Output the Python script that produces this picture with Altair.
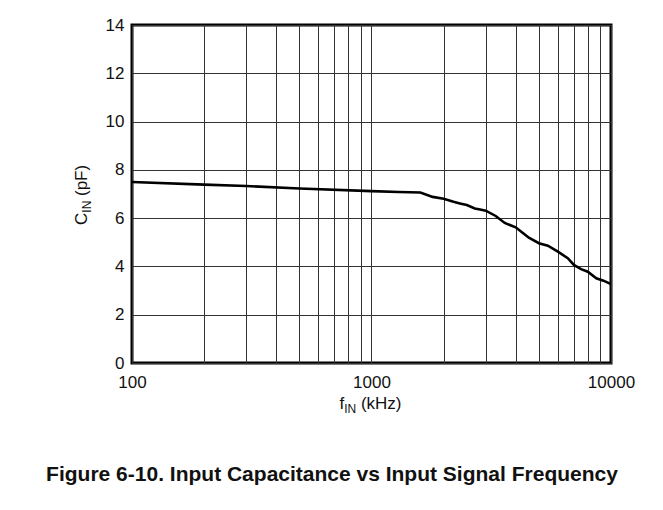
import altair as alt
import pandas as pd

# Data
freq_khz = [100, 200, 300, 500, 1000, 1300, 1600, 1800, 2000, 2200, 2340, 2500,
            2700, 2840, 3000, 3300, 3600, 4000, 4300, 4540, 5000, 5450, 6000,
            6600, 7000, 7500, 8000, 8680, 9300, 10000]
cin_pf = [7.5, 7.39, 7.33, 7.23, 7.12, 7.08, 7.06, 6.88, 6.8, 6.68, 6.61, 6.54,
          6.4, 6.36, 6.31, 6.09, 5.8, 5.62, 5.37, 5.19, 4.96, 4.86, 4.61,
          4.34, 4.06, 3.89, 3.78, 3.51, 3.41, 3.27]

x_grid_values = [100, 200, 300, 400, 500, 600, 700, 800, 900,
                 1000, 2000, 3000, 4000, 5000, 6000, 7000, 8000, 9000, 10000]
x_label_values = [100, 1000, 10000]
y_tick_values = [0, 2, 4, 6, 8, 10, 12, 14]

title_text = "Figure 6-10. Input Capacitance vs Input Signal Frequency"

FONT = "Liberation Sans, Arial, Helvetica, sans-serif"
W, H = 479, 338

df = pd.DataFrame({"f": freq_khz, "c": cin_pf})

x_scale = alt.Scale(type="log", domain=[100, 10000], nice=False)
y_scale = alt.Scale(domain=[0, 14], nice=False, zero=False)

label_expr = "indexof([" + ",".join(str(v) for v in x_label_values) + "], datum.value) >= 0 ? datum.label : ''"

line = alt.Chart(df).mark_line(color="black", strokeWidth=2.6, clip=True).encode(
    x=alt.X("f:Q", scale=x_scale,
            axis=alt.Axis(values=x_grid_values, format="d", labelExpr=label_expr,
                          grid=True, gridColor="#333", gridWidth=1, gridOpacity=1,
                          domain=False, ticks=False, labelPadding=11,
                          labelFontSize=17, labelFont=FONT, labelColor="#111",
                          title=None, labelFlush=False, labelOverlap=False)),
    y=alt.Y("c:Q", scale=y_scale,
            axis=alt.Axis(values=y_tick_values, grid=True, gridColor="#333",
                          gridWidth=1, gridOpacity=1, domain=False, ticks=False,
                          labelPadding=8, labelFontSize=17, labelFont=FONT,
                          labelColor="#111", title=None)),
)

# Axis titles with subscripts, and figure caption (decorative text)
def txt(text, x, y, size, angle=0, bold=False):
    return alt.Chart(pd.DataFrame({"t": [text]})).mark_text(
        align="left", baseline="alphabetic", font=FONT, fontSize=size,
        angle=angle, fontWeight="bold" if bold else "normal", color="#111"
    ).encode(text="t:N", x=alt.value(x), y=alt.value(y))

# x title: f_IN (kHz), centred at plot middle
xt0 = 239.5 - 32
xb = 384
xt = [txt("f", xt0, xb, 17), txt("IN", xt0 + 4.7, xb + 4, 12),
      txt("(kHz)", xt0 + 4.7 + 12 + 4.7, xb, 17)]

# y title: C_IN (pF), rotated
yb = -45
y0 = 169 + 31
yt = [txt("C", yb, y0, 17, angle=270),
      txt("IN", yb + 4, y0 - 12.3, 12, angle=270),
      txt("(pF)", yb, y0 - 12.3 - 12 - 4.7, 17, angle=270)]

cap = alt.Chart(pd.DataFrame({"t": [title_text]})).mark_text(
    align="center", baseline="alphabetic", font=FONT, fontSize=21,
    fontWeight="bold", color="#111"
).encode(text="t:N", x=alt.value(200), y=alt.value(456))

chart = alt.layer(line, *xt, *yt, cap).properties(
    width=W, height=H,
    autosize=alt.AutoSizeParams(type="none"),
    padding={"left": 124, "top": 17, "right": 40, "bottom": 128},
    background="white",
).configure_view(stroke="black", strokeWidth=3)

chart.save("out.html", embed_options={"renderer": "svg", "actions": False})
